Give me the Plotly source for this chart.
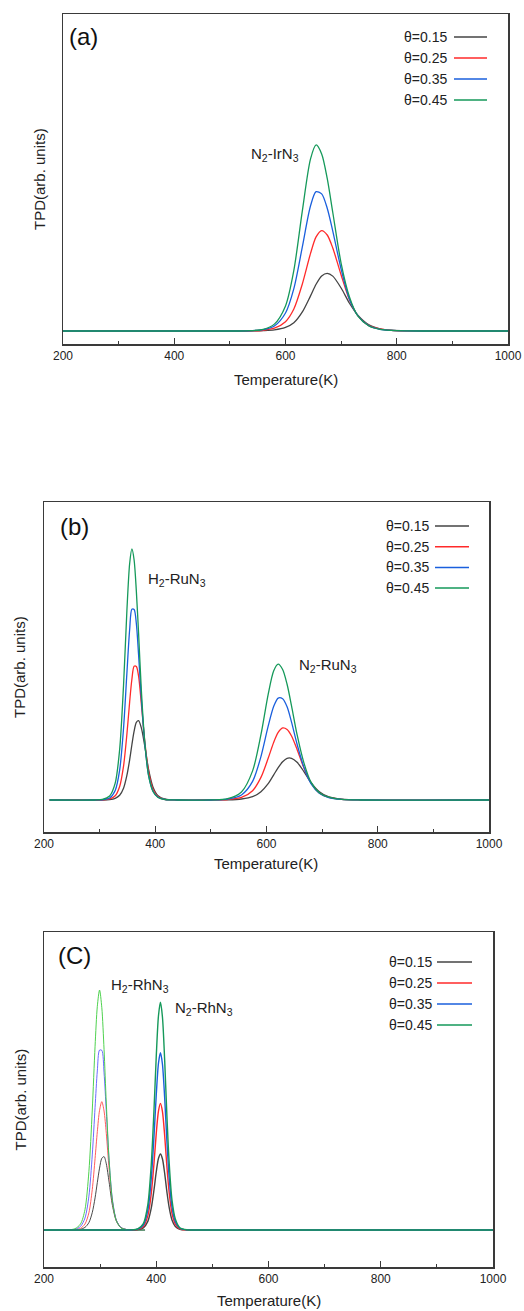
import plotly.graph_objects as go

W, H = 524, 1311
FONT = "Liberation Sans, Arial, sans-serif"

# ---------------- data ----------------
series_names = ["θ=0.15", "θ=0.25", "θ=0.35", "θ=0.45"]
colors = ["#444444", "#ff2a2a", "#1a5fdd", "#15995a"]
thin_colors = ["#333333", "#ff4a4a", "#5a5aff", "#3acc3a"]

# panel (a) N2-IrN3
TA = [200, 500, 530, 560, 580, 600, 615, 630, 645, 655, 665, 675, 685, 700, 715, 730, 750, 770, 790, 820, 860, 1000]
A_015 = [0, 0, 0, 0.002, 0.006, 0.019, 0.044, 0.101, 0.189, 0.251, 0.296, 0.31, 0.295, 0.231, 0.149, 0.085, 0.033, 0.012, 0.004, 0.001, 0, 0]
A_025 = [0, 0, 0.0005, 0.004, 0.015, 0.05, 0.118, 0.25, 0.417, 0.506, 0.54, 0.516, 0.446, 0.301, 0.168, 0.083, 0.029, 0.011, 0.0035, 0.001, 0, 0]
A_035 = [0, 0, 0.001, 0.007, 0.027, 0.097, 0.228, 0.448, 0.673, 0.749, 0.737, 0.66, 0.537, 0.333, 0.171, 0.083, 0.028, 0.009, 0.003, 0.0005, 0, 0]
A_045 = [0, 0, 0.001, 0.009, 0.037, 0.135, 0.326, 0.64, 0.925, 1.0, 0.952, 0.82, 0.637, 0.364, 0.183, 0.081, 0.027, 0.009, 0.003, 0.0005, 0, 0]

# panel (b) H2-RuN3 + N2-RuN3
TB = [210, 290, 305, 318, 328, 336, 343, 349, 354, 358, 362, 366, 370, 375, 381, 388, 396, 405, 418, 440,
      500, 530, 555, 575, 590, 603, 613, 621, 629, 637, 645, 655, 667, 680, 695, 712, 735, 770, 1000]
B_015 = [0, 0, 0, 0.0016, 0.0067, 0.019, 0.047, 0.098, 0.16, 0.22, 0.274, 0.309, 0.316, 0.287, 0.217, 0.122, 0.051, 0.017, 0.003, 0,
         0, 0.0007, 0.004, 0.013, 0.033, 0.065, 0.1, 0.129, 0.152, 0.166, 0.166, 0.15, 0.114, 0.069, 0.033, 0.012, 0.0034, 0.0003, 0]
B_025 = [0, 0, 0.0005, 0.004, 0.017, 0.054, 0.135, 0.261, 0.391, 0.481, 0.533, 0.532, 0.494, 0.383, 0.238, 0.113, 0.042, 0.013, 0.002, 0,
         0, 0.002, 0.01, 0.037, 0.09, 0.166, 0.23, 0.269, 0.287, 0.281, 0.255, 0.201, 0.129, 0.068, 0.028, 0.01, 0.0023, 0, 0]
B_035 = [0, 0, 0.001, 0.008, 0.038, 0.119, 0.286, 0.504, 0.679, 0.76, 0.759, 0.703, 0.58, 0.404, 0.23, 0.098, 0.035, 0.011, 0.002, 0,
         0, 0.0035, 0.02, 0.074, 0.173, 0.294, 0.373, 0.406, 0.403, 0.371, 0.31, 0.222, 0.132, 0.065, 0.027, 0.0095, 0.0024, 0, 0]
B_045 = [0, 0, 0.002, 0.016, 0.067, 0.201, 0.457, 0.753, 0.942, 1.0, 0.956, 0.832, 0.666, 0.438, 0.235, 0.098, 0.034, 0.01, 0.002, 0,
         0.0005, 0.005, 0.032, 0.116, 0.26, 0.421, 0.515, 0.541, 0.52, 0.461, 0.375, 0.26, 0.15, 0.071, 0.029, 0.011, 0.0025, 0, 0]

# panel (c) H2-RhN3 (thin) and N2-RhN3
TC_H2 = [200, 240, 255, 265, 273, 280, 286, 291, 295, 299, 303, 307, 311, 316, 322, 329, 337, 346, 360, 380]
C_H2_015 = [0, 0, 0.0006, 0.003, 0.011, 0.031, 0.073, 0.134, 0.198, 0.258, 0.299, 0.306, 0.276, 0.2, 0.102, 0.037, 0.01, 0.0024, 0, 0]
C_H2_025 = [0, 0, 0.0016, 0.007, 0.025, 0.072, 0.169, 0.298, 0.41, 0.499, 0.535, 0.496, 0.403, 0.254, 0.117, 0.04, 0.011, 0.0025, 0, 0]
C_H2_035 = [0, 0, 0.003, 0.015, 0.05, 0.141, 0.313, 0.511, 0.663, 0.75, 0.749, 0.655, 0.495, 0.289, 0.126, 0.041, 0.011, 0.0026, 0, 0]
C_H2_045 = [0, 0, 0.0055, 0.025, 0.085, 0.244, 0.5, 0.766, 0.932, 1.0, 0.927, 0.753, 0.529, 0.292, 0.12, 0.039, 0.0095, 0.0025, 0, 0]

TC_N2 = [200, 330, 340, 355, 367, 377, 385, 391, 396, 400, 404, 407.5, 411, 415, 419, 423, 428, 434, 442, 455, 470, 500, 1000]
C_N2_015 = [0, 0, 0, 0.0002, 0.0017, 0.009, 0.036, 0.09, 0.168, 0.242, 0.299, 0.317, 0.297, 0.236, 0.159, 0.094, 0.042, 0.015, 0.0032, 0.0003, 0, 0, 0]
C_N2_025 = [0, 0, 0, 0.0003, 0.003, 0.015, 0.059, 0.15, 0.279, 0.402, 0.497, 0.528, 0.495, 0.394, 0.264, 0.157, 0.07, 0.025, 0.0053, 0.0004, 0, 0, 0]
C_N2_035 = [0, 0, 0, 0.0004, 0.004, 0.021, 0.083, 0.211, 0.391, 0.563, 0.696, 0.739, 0.692, 0.551, 0.37, 0.219, 0.098, 0.035, 0.0074, 0.0006, 0, 0, 0]
C_N2_045 = [0, 0, 0, 0.0006, 0.005, 0.027, 0.106, 0.27, 0.502, 0.723, 0.894, 0.949, 0.889, 0.708, 0.475, 0.282, 0.126, 0.046, 0.0095, 0.0008, 0, 0, 0]

x_tickvals = [200, 400, 600, 800, 1000]
x_ticktext = ["200", "400", "600", "800", "1000"]
panel_labels = ["(a)", "(b)", "(C)"]
x_title = "Temperature(K)"
y_title = "TPD(arb. units)"

# ---------------- layout helpers (pixel geometry) ----------------
def px(x):
    return x / W

def py(y):
    return 1 - y / H

# frame boxes: left, right, top, bottom (px)
frames = [(63, 508, 14, 344), (44, 489, 502, 832), (44, 493, 932, 1267)]
yranges = [[-0.0699, 1.704], [-0.1275, 1.187], [-0.154, 1.242]]

fig = go.Figure()

def add_line(x, y, color, axis, width=1.3):
    fig.add_trace(go.Scatter(x=x, y=y, mode="lines", xaxis="x" + axis, yaxis="y" + axis,
                             line=dict(color=color, width=width, shape="spline", smoothing=0.8),
                             showlegend=False, hoverinfo="skip"))

for i, ys in enumerate([A_015, A_025, A_035, A_045]):
    add_line(TA, ys, colors[i], "")
for i, ys in enumerate([B_015, B_025, B_035, B_045]):
    add_line(TB, ys, colors[i], "2")
for i, ys in enumerate([C_H2_015, C_H2_025, C_H2_035, C_H2_045]):
    add_line(TC_H2, ys, thin_colors[i], "3", width=0.9)
for i, ys in enumerate([C_N2_015, C_N2_025, C_N2_035, C_N2_045]):
    add_line(TC_N2, ys, colors[i], "3", width=1.4)

axis_common = dict(showline=True, linecolor="#3a3a3a", linewidth=1.5, mirror=True,
                   showgrid=False, zeroline=False, automargin=False)

layout = dict(width=W, height=H, margin=dict(l=0, r=0, t=0, b=0),
              paper_bgcolor="white", plot_bgcolor="white",
              font=dict(family=FONT, color="#222222"))

annotations = []
shapes = []
for k, (l, r, t, b) in enumerate(frames):
    sfx = "" if k == 0 else str(k + 1)
    layout["xaxis" + sfx] = dict(axis_common, domain=[px(l), px(r)], range=[200, 1000],
                                 anchor="y" + sfx, ticks="inside", ticklen=6, tickwidth=1.2,
                                 tickcolor="#3a3a3a", tickvals=x_tickvals, ticktext=x_ticktext,
                                 tickfont=dict(size=12, color="#222222", family=FONT),
                                 minor=dict(ticks="inside", ticklen=3, tickwidth=1.1,
                                            tickcolor="#3a3a3a", dtick=100, tick0=100))
    layout["yaxis" + sfx] = dict(axis_common, domain=[py(b), py(t)], range=yranges[k],
                                 anchor="x" + sfx, showticklabels=False, ticks="")
    # axis titles
    annotations.append(dict(text=x_title, xref="paper", yref="paper",
                            x=px((l + r) / 2), y=py([379, 863, 1300][k]),
                            showarrow=False, font=dict(size=15, family=FONT, color="#222222"),
                            xanchor="center", yanchor="middle"))
    annotations.append(dict(text=y_title, xref="paper", yref="paper",
                            x=px([39, 19, 20][k]), y=py((t + b) / 2), textangle=-90,
                            showarrow=False, font=dict(size=15, family=FONT, color="#222222"),
                            xanchor="center", yanchor="middle"))
    # panel label
    annotations.append(dict(text=panel_labels[k], xref="paper", yref="paper",
                            x=px([67, 58, 56][k]), y=py([36, 526, 955][k]),
                            showarrow=False, font=dict(size=24, family=FONT, color="#111111"),
                            xanchor="left", yanchor="middle"))

# legends (text left, line right)
legend_geo = [(449, 454, 487, 37, 21), (431, 435, 469, 526, 20.7), (434, 437, 472, 962, 21)]
for (tx, lx0, lx1, y0, dy) in legend_geo:
    for i, name in enumerate(series_names):
        yy = y0 + i * dy
        annotations.append(dict(text=name, xref="paper", yref="paper", x=px(tx), y=py(yy),
                                xanchor="right", yanchor="middle", showarrow=False,
                                font=dict(size=14, family=FONT, color="#222222")))
        shapes.append(dict(type="line", xref="paper", yref="paper", x0=px(lx0), x1=px(lx1),
                           y0=py(yy), y1=py(yy), line=dict(color=colors[i], width=1.5)))

# peak labels (data coordinates)
peak_labels = [
    ("N<sub>2</sub>-IrN<sub>3</sub>", 534, 0.95, ""),
    ("H<sub>2</sub>-RuN<sub>3</sub>", 383, 0.88, "2"),
    ("N<sub>2</sub>-RuN<sub>3</sub>", 655, 0.535, "2"),
    ("H<sub>2</sub>-RhN<sub>3</sub>", 316, 1.02, "3"),
    ("N<sub>2</sub>-RhN<sub>3</sub>", 430, 0.925, "3"),
]
for txt, xv, yv, sfx in peak_labels:
    annotations.append(dict(text=txt, xref="x" + sfx, yref="y" + sfx, x=xv, y=yv,
                            xanchor="left", yanchor="middle", showarrow=False,
                            font=dict(size=15, family=FONT, color="#222222")))

layout["annotations"] = annotations
layout["shapes"] = shapes
fig.update_layout(**layout)
fig.write_html("out.html", config={"displayModeBar": False, "staticPlot": True})

# remove default page margin so the figure sits at the window origin
with open("out.html", "r", encoding="utf-8") as f:
    html = f.read()
html = html.replace("<head>", "<head><style>html,body{margin:0;padding:0;overflow:hidden;}</style>", 1)
with open("out.html", "w", encoding="utf-8") as f:
    f.write(html)
